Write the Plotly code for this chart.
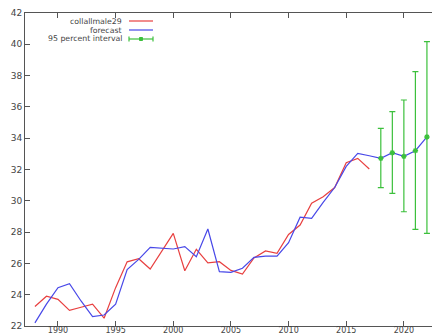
import plotly.graph_objects as go

years_actual = list(range(1988, 2018))
collallmale29 = [23.25, 23.9, 23.7, 23.0, 23.2, 23.4, 22.5, 24.45, 26.1, 26.3,
                 25.64, 26.75, 27.92, 25.53, 26.9, 26.04, 26.11, 25.55, 25.32, 26.35,
                 26.8, 26.64, 27.85, 28.45, 29.84, 30.26, 30.85, 32.43, 32.71, 32.03]

years_forecast = list(range(1988, 2023))
forecast = [22.2, 23.4, 24.45, 24.7, 23.6, 22.6, 22.7, 23.4, 25.6, 26.26,
            27.03, 26.97, 26.92, 27.07, 26.43, 28.2, 25.47, 25.43, 25.69, 26.39,
            26.47, 26.47, 27.32, 28.95, 28.88, 29.9, 30.85, 32.2, 33.03, 32.88,
            32.71, 33.07, 32.84, 33.2, 34.08]

years_interval = [2018, 2019, 2020, 2021, 2022]
interval_center = [32.71, 33.07, 32.84, 33.2, 34.08]
interval_upper = [34.63, 35.7, 36.44, 38.25, 40.17]
interval_lower = [30.84, 30.48, 29.3, 28.18, 27.92]

x_ticks = [1990, 1995, 2000, 2005, 2010, 2015, 2020]
y_ticks = [22, 24, 26, 28, 30, 32, 34, 36, 38, 40, 42]

RED = "rgb(232,64,64)"
BLUE = "rgb(72,72,232)"
GREEN = "rgb(60,192,60)"
TXT = "#444444"
AX = "#555555"

fig = go.Figure()
fig.add_trace(go.Scatter(x=years_actual, y=collallmale29, mode="lines",
                         line=dict(color=RED, width=1.2), name="collallmale29"))
fig.add_trace(go.Scatter(x=years_forecast, y=forecast, mode="lines",
                         line=dict(color=BLUE, width=1.2), name="forecast"))
fig.add_trace(go.Scatter(
    x=years_interval, y=interval_center, mode="markers",
    marker=dict(symbol="asterisk-open", size=4.5, color=GREEN,
                line=dict(color=GREEN, width=1.4)),
    error_y=dict(type="data", symmetric=False,
                 array=[u - c for u, c in zip(interval_upper, interval_center)],
                 arrayminus=[c - l for c, l in zip(interval_center, interval_lower)],
                 color=GREEN, thickness=1.2, width=3),
    name="95 percent interval"))

# legend (gnuplot style: right-aligned text, sample to the right)
L, T, W, H = 25, 13, 407, 313
def px(x):
    return (x - L) / W
def py(y):
    return 1 - (y - T) / H

legend_items = [("collallmale29", RED, 21), ("forecast", BLUE, 30), ("95 percent interval", GREEN, 39)]
shapes = []
annotations = []
for label, col, yy in legend_items:
    annotations.append(dict(x=px(124), y=py(yy), xref="paper", yref="paper",
                            text=label, showarrow=False, xanchor="right", yanchor="middle",
                            font=dict(family="DejaVu Sans", size=7.8, color=TXT)))
    shapes.append(dict(type="line", xref="paper", yref="paper",
                       x0=px(129), x1=px(153), y0=py(yy), y1=py(yy),
                       line=dict(color=col, width=1.2)))
# caps and marker for the interval legend
for cx in (129, 153):
    shapes.append(dict(type="line", xref="paper", yref="paper",
                       x0=px(cx), x1=px(cx), y0=py(36.5), y1=py(41.5),
                       line=dict(color=GREEN, width=1.2)))
shapes.append(dict(type="rect", xref="paper", yref="paper",
                   x0=px(139.5), x1=px(142.5), y0=py(40.5), y1=py(37.5),
                   line=dict(color=GREEN, width=1), fillcolor=GREEN))

fig.update_layout(
    width=432, height=336,
    margin=dict(l=L, r=0, t=T, b=336 - T - H, pad=0, autoexpand=False),
    paper_bgcolor="white", plot_bgcolor="white",
    showlegend=False,
    shapes=shapes, annotations=annotations,
    font=dict(family="DejaVu Sans", size=9, color=TXT),
    xaxis=dict(range=[1987.14, 2022.44], tickvals=x_ticks, ticks="inside", ticklen=5,
               tickcolor=AX, showline=True, linecolor=AX, linewidth=1, mirror="ticks",
               showgrid=False, zeroline=False, ticklabelstandoff=-4, automargin=False,
               tickfont=dict(size=8, color=TXT)),
    yaxis=dict(range=[22, 42], tickvals=y_ticks, ticks="inside", ticklen=5,
               tickcolor=AX, showline=True, linecolor=AX, linewidth=1, mirror=False,
               showgrid=False, zeroline=False, automargin=False,
               tickfont=dict(size=9, color=TXT)),
)

fig.write_html("out.html")
